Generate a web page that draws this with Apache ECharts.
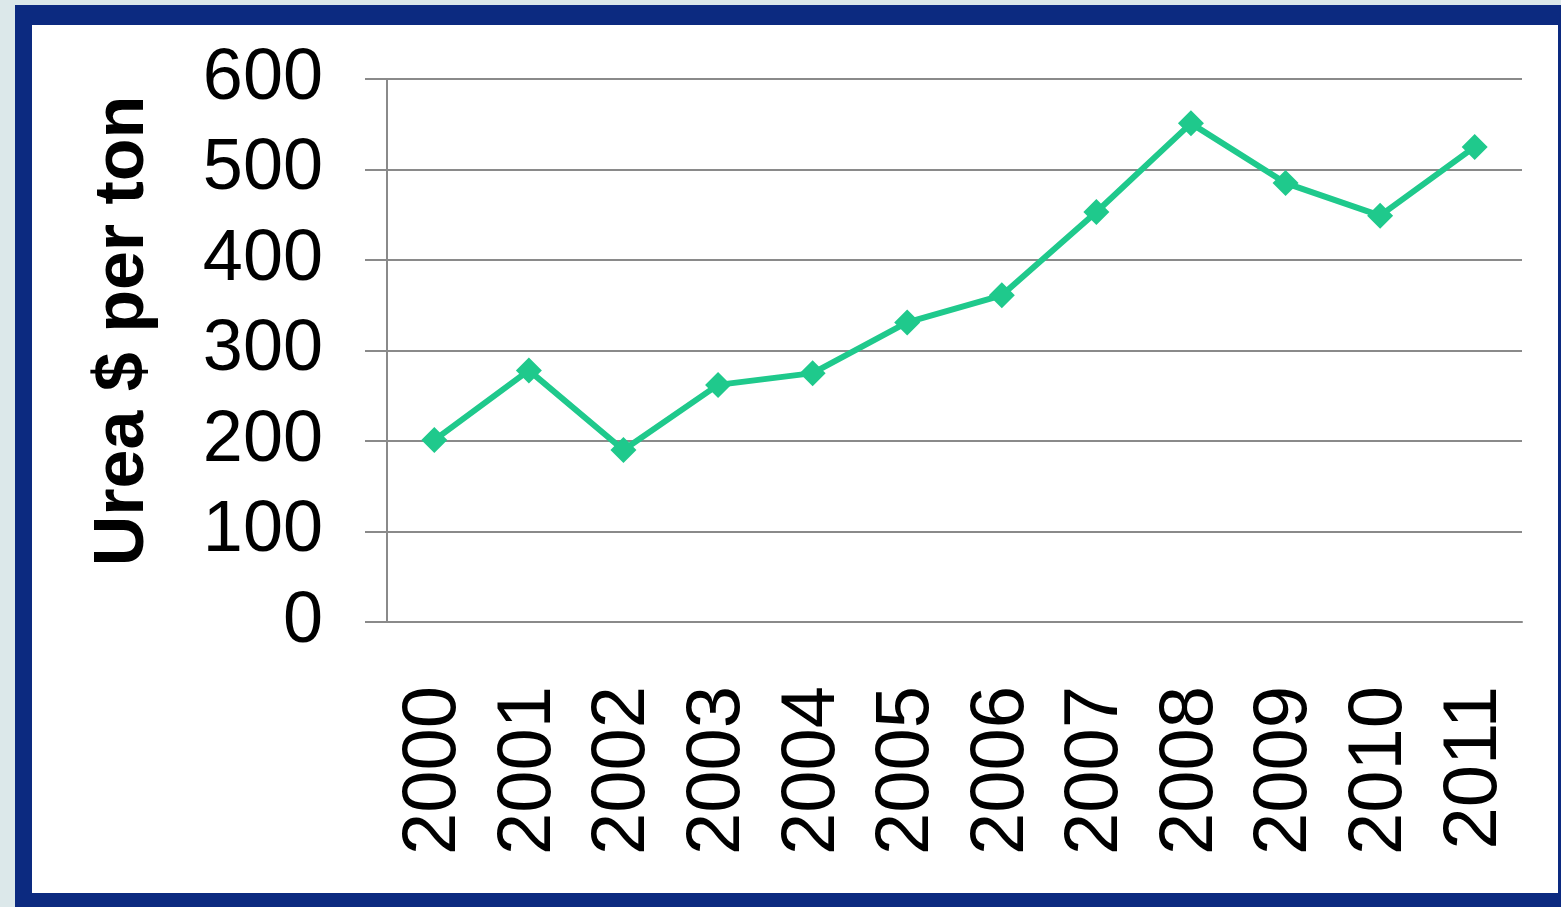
<!DOCTYPE html>
<html>
<head>
<meta charset="utf-8">
<script src="https://cdn.jsdelivr.net/npm/echarts@6/dist/echarts.min.js"></script>
<style>
html,body{margin:0;padding:0;width:1561px;height:907px;overflow:hidden;background:#dce8ea;}
#frame{position:absolute;left:15px;top:5px;width:1526px;height:868px;background:#fff;border-style:solid;border-color:#0c2a80;border-width:20px 17px 17px 17px;}
#chart{position:absolute;left:0;top:0;width:1561px;height:907px;}
</style>
</head>
<body>
<div id="frame"></div>
<div id="chart"></div>
<script>
var years = ['2000','2001','2002','2003','2004','2005','2006','2007','2008','2009','2010','2011'];
var ureaPrice = [201, 278, 190, 262, 275, 331, 361, 453, 551, 485, 449, 525];
var yTicks = {min: 0, max: 600, interval: 100};
var yTitle = 'Urea $ per ton';

var chart = echarts.init(document.getElementById('chart'), null, {renderer: 'canvas'});
chart.setOption({
  backgroundColor: 'transparent',
  animation: false,
  grid: {left: 387, top: 79, right: 39, bottom: 285, containLabel: false},
  xAxis: {
    type: 'category',
    data: years,
    boundaryGap: true,
    axisLine: {show: true, lineStyle: {color: '#8a8a8a', width: 2}},
    axisTick: {show: false},
    axisLabel: {interval: 0, rotate: 90, margin: 64, fontSize: 76, color: '#000', fontFamily: 'Liberation Sans, Arial, sans-serif'},
    splitLine: {show: false}
  },
  yAxis: {
    type: 'value',
    min: yTicks.min, max: yTicks.max, interval: yTicks.interval,
    axisLine: {show: true, lineStyle: {color: '#8a8a8a', width: 2}},
    axisTick: {show: true, length: 22, lineStyle: {color: '#8a8a8a', width: 2}},
    axisLabel: {margin: 64, fontSize: 72, color: '#000', fontFamily: 'Liberation Sans, Arial, sans-serif'},
    splitLine: {show: true, lineStyle: {color: '#8a8a8a', width: 2}}
  },
  graphic: [{
    type: 'text',
    x: 124, y: 331,
    rotation: Math.PI / 2,
    style: {
      text: yTitle,
      font: 'bold 70px "Liberation Sans", Arial, sans-serif',
      fill: '#000',
      textAlign: 'center',
      textVerticalAlign: 'middle'
    }
  }],
  series: [{
    type: 'line',
    data: ureaPrice,
    symbol: 'diamond',
    symbolSize: 26,
    lineStyle: {color: '#1fc98c', width: 6},
    itemStyle: {color: '#1fc98c'}
  }]
});
</script>
</body>
</html>
